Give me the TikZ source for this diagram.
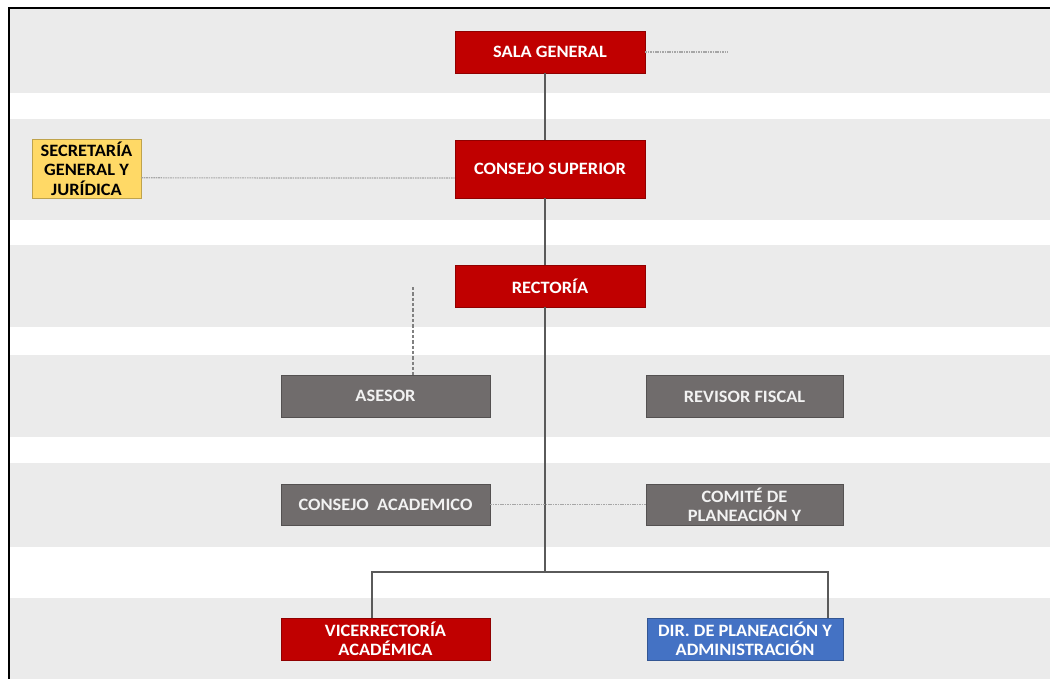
\documentclass[tikz,border=0pt]{standalone}
\usepackage{fontspec}
\setmainfont{Carlito}[FakeStretch=1.06]
\definecolor{bandgray}{RGB}{235,235,235}
\definecolor{orgred}{RGB}{192,0,0}
\definecolor{orggray}{RGB}{112,108,108}
\definecolor{orgblue}{RGB}{68,114,196}
\definecolor{orgyellow}{RGB}{255,217,102}
\definecolor{linegray}{RGB}{90,90,90}
\begin{document}
\begin{tikzpicture}[x=0.75pt,y=0.75pt,yscale=-1,xscale=1,
	orgbox/.style={draw=#1!75!black, fill=#1, line width=0.6pt, inner sep=0pt, align=center,
		font=\bfseries\fontsize{13}{14.5}\selectfont, text=white},
	spine/.style={draw=linegray, line width=0.9pt},
	dotline/.style={draw=gray!70, line width=0.9pt, dash pattern=on 1.2pt off 0.6pt},
	dashline/.style={draw=gray, line width=0.8pt, dash pattern=on 2.5pt off 1.5pt}]
	\useasboundingbox (0,0) rectangle (1050,679);
	
	%Bands
	\fill[white] (0,0) rectangle (1050,679);
	\fill[bandgray] (10,9) rectangle (1050,93);
	\fill[bandgray] (10,119) rectangle (1050,220);
	\fill[bandgray] (10,245) rectangle (1050,327);
	\fill[bandgray] (10,355) rectangle (1050,437);
	\fill[bandgray] (10,463) rectangle (1050,547);
	\fill[bandgray] (10,598) rectangle (1050,679);
	%Frame
	\draw[line width=1.6pt] (1050,8) -- (9,8) -- (9,679);
	
	% Nodes
	\node[orgbox=orgred, minimum width=142.5pt, minimum height=31.5pt] (sala) at (550,52) {SALA GENERAL};
	\node[orgbox=orgred, minimum width=142.5pt, minimum height=43.5pt] (consejo) at (550,169) {CONSEJO SUPERIOR};
	\node[orgbox=orgred, minimum width=142.5pt, minimum height=31.5pt] (rectoria) at (550,286) {RECTORÍA};
	\node[orgbox=orgyellow, text=black, minimum width=81.75pt, minimum height=44.25pt] (secretaria) at (86.5,168.5) {SECRETARÍA\\GENERAL Y\\JURÍDICA};
	\node[orgbox=orggray, text=white!90!gray, minimum width=156.75pt, minimum height=31.5pt] (asesor) at (385.5,396) {ASESOR};
	\node[orgbox=orggray, text=white!90!gray, minimum width=147.75pt, minimum height=31.5pt] (revisor) at (744.5,396.5) {REVISOR FISCAL};
	\node[orgbox=orggray, text=white!90!gray, minimum width=156.75pt, minimum height=30.75pt] (consacad) at (385.5,504.5) {CONSEJO\ \ ACADEMICO};
	\node[orgbox=orggray, text=white!90!gray, minimum width=147.75pt, minimum height=30.75pt] (comite) at (744.5,504.5) {COMITÉ DE\\PLANEACIÓN Y};
	\node[orgbox=orgred, minimum width=156.75pt, minimum height=31.5pt] (vice) at (385.5,639) {VICERRECTORÍA\\ACADÉMICA};
	\node[orgbox=orgblue, minimum width=147pt, minimum height=31.5pt] (dir) at (745,639) {DIR. DE PLANEACIÓN Y\\ADMINISTRACIÓN};
	
	\coordinate (junc) at (545,572);
	\coordinate (salaend) at (728,52);
	\coordinate (asesortop) at (413,287);
	
	% Connectors
	\draw[spine] (sala.south -| junc) -- (consejo.north -| junc);
	\draw[spine] (consejo.south -| junc) -- (rectoria.north -| junc);
	\draw[spine] (rectoria.south -| junc) -- (junc);
	\draw[spine] (junc) -| ([xshift=-10.1pt]vice.north);
	\draw[spine] (junc) -| ([xshift=62.25pt]dir.north);
	\draw[dotline] (sala.east) -- (salaend);
	\draw[dotline] ([yshift=7pt]secretaria.east) -- ([yshift=6.75pt]consejo.west);
	\draw[dashline] (asesortop) -- (asesortop |- asesor.north);
	\draw[dotline] (consacad.east) -- (comite.west);
\end{tikzpicture}
\end{document}
